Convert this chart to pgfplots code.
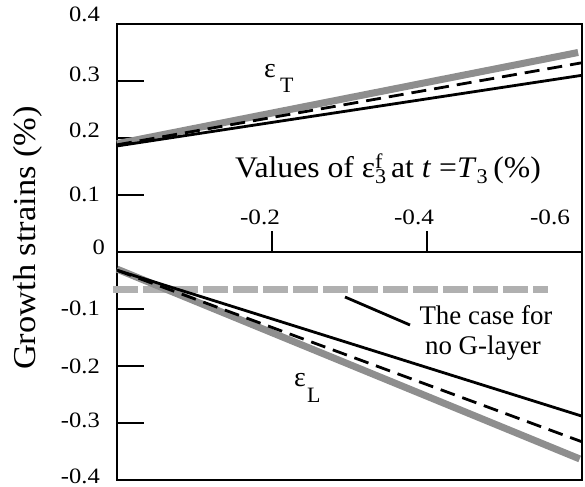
\documentclass[border=0pt]{standalone}
\usepackage{pgfplots}
\pgfplotsset{compat=1.18}
\usepackage{fontspec}
\setmainfont{Liberation Serif}
\definecolor{gthick}{HTML}{8E8E8E}
\definecolor{glight}{HTML}{B0B0B0}
\begin{document}
\begin{tikzpicture}[x=1bp,y=1bp]
\useasboundingbox (-117,-7) rectangle (468,480);
\begin{axis}[
  at={(0,0)}, anchor=south west,
  width=465bp, height=456bp, scale only axis,
  x dir=reverse, xmin=-0.6, xmax=0, ymin=-0.4, ymax=0.4,
  xtick=\empty,
  ytick={-0.4,-0.3,-0.2,-0.1,0,0.1,0.2,0.3,0.4},
  yticklabels={},
  ytick pos=left, tick align=inside, major tick length=27bp,
  axis line style={line width=2.5bp},
  every tick/.style={line width=2.5bp, black},
  clip=false,
]
% no G-layer reference
\addplot[glight, line width=7bp, dash pattern=on 25bp off 5bp] coordinates {(0.005,-0.066) (-0.556,-0.066)};
% epsilon_T
\addplot[gthick, line width=7bp] coordinates {(0,0.190) (-0.595,0.350)};
\addplot[black, line width=2.8bp, dash pattern=on 15bp off 8bp] coordinates {(0,0.188) (-0.6,0.332)};
\addplot[black, line width=2.8bp] coordinates {(0,0.186) (-0.6,0.310)};
% epsilon_L
\addplot[gthick, line width=7bp] coordinates {(0,-0.030) (-0.597,-0.363)};
\addplot[black, line width=2.8bp, dash pattern=on 15bp off 8bp] coordinates {(0,-0.032) (-0.6,-0.333)};
\addplot[black, line width=2.8bp] coordinates {(0,-0.032) (-0.6,-0.288)};
% middle x axis
\draw[line width=2.5bp] (axis cs:0,0) -- (axis cs:-0.6,0);
\draw[line width=2.5bp] (axis cs:-0.2,0) -- ([yshift=21bp]axis cs:-0.2,0);
\draw[line width=2.5bp] (axis cs:-0.4,0) -- ([yshift=21bp]axis cs:-0.4,0);
\end{axis}
% y tick labels
\begin{scope}[every node/.style={font=\fontsize{22}{22}\selectfont, anchor=east, inner sep=0pt, xscale=1.12}]
\node at (-17,465.5) {0.4};
\node at (-17,406) {0.3};
\node at (-17,350) {0.2};
\node at (-17,285.5) {0.1};
\node at (-12,233) {0};
\node at (-17,172) {-0.1};
\node at (-17,114) {-0.2};
\node at (-17,60) {-0.3};
\node at (-17,3.5) {-0.4};
\end{scope}
% x tick labels
\begin{scope}[every node/.style={font=\fontsize{22}{22}\selectfont, anchor=base, inner sep=0pt, xscale=1.15}]
\node at (143,255) {-0.2};
\node at (297,255) {-0.4};
\node at (433,255) {-0.6};
\end{scope}
% x axis title
\node[font=\fontsize{30}{30}\selectfont, anchor=base west, inner sep=0pt, xscale=1.06] at (118,302)
  {Values of ε\rlap{\textsubscript{3}}\textsuperscript{f} at \textit{t} =\textit{T}\textsubscript{3}\,(\%)};
% y label
\node[font=\fontsize{32}{32}\selectfont, rotate=90, xscale=1.08, inner sep=0pt] at (-89,242) {Growth strains (\%)};
% curve labels
\node[font=\fontsize{28}{28}\selectfont, anchor=base, inner sep=0pt] at (153,402) {ε};
\node[font=\fontsize{22}{22}\selectfont, anchor=base west, inner sep=0pt] at (163,387) {T};
\node[font=\fontsize{28}{28}\selectfont, anchor=base, inner sep=0pt] at (183,93) {ε};
\node[font=\fontsize{22}{22}\selectfont, anchor=base west, inner sep=0pt] at (190,77) {L};
% annotation
\draw[line width=2.8bp] (228,183) -- (293,155);
\node[font=\fontsize{27}{27}\selectfont, anchor=base, inner sep=0pt] at (369,155) {The case for};
\node[font=\fontsize{27}{27}\selectfont, anchor=base, inner sep=0pt] at (366,125) {no G-layer};
\end{tikzpicture}
\end{document}
